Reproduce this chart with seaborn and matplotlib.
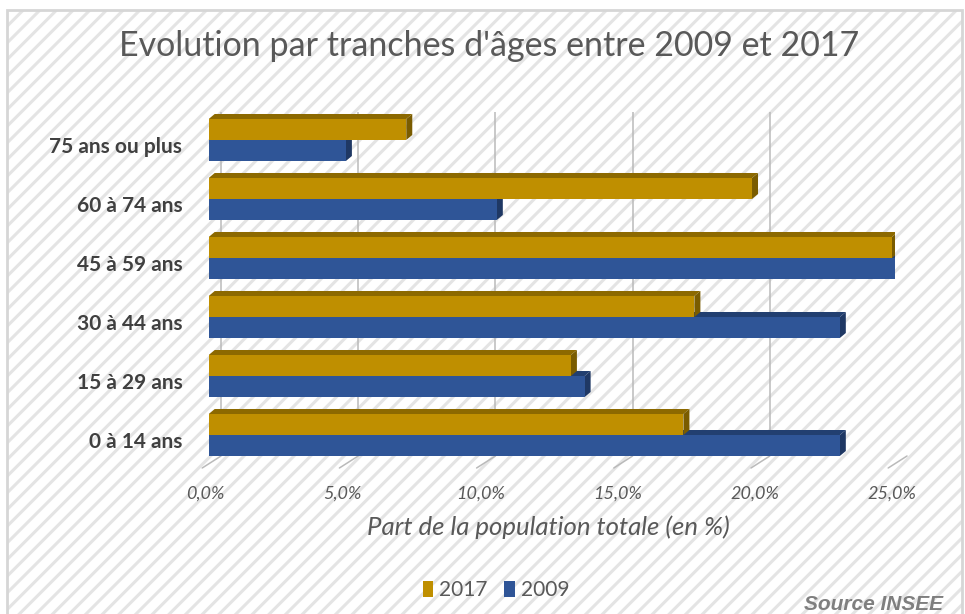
import matplotlib
matplotlib.use("Agg")
import matplotlib.pyplot as plt
import seaborn as sns
import pandas as pd
import numpy as np
from matplotlib.patches import Rectangle, Polygon, Patch
from matplotlib.transforms import ScaledTranslation

# ---------------- data ----------------
categories = ["75 ans ou plus", "60 à 74 ans", "45 à 59 ans",
              "30 à 44 ans", "15 à 29 ans", "0 à 14 ans"]
values_2017 = [7.2, 19.8, 24.9, 17.7, 13.2, 17.3]
values_2009 = [5.0, 10.5, 25.0, 23.0, 13.7, 23.0]
series = ["2017", "2009"]
xticks = [0, 5, 10, 15, 20, 25]
xtick_labels = ["0,0%", "5,0%", "10,0%", "15,0%", "20,0%", "25,0%"]
title = "Evolution par tranches d'âges entre 2009 et 2017"
xlabel = "Part de la population totale (en %)"
source = "Source INSEE"

df = pd.DataFrame({
    "cat": categories * 2,
    "val": values_2017 + values_2009,
    "annee": ["2017"] * len(categories) + ["2009"] * len(categories),
})

colors = {"2017": "#BF8F00", "2009": "#2F5597"}
top_colors = {"2017": "#8C6900", "2009": "#223F70"}
side_colors = {"2017": "#7A5C00", "2009": "#1F3864"}

sns.set_theme(style="white")
plt.rcParams["font.family"] = ["Lato", "DejaVu Sans"]
plt.rcParams["hatch.linewidth"] = 2.2
plt.rcParams["hatch.color"] = "#E4E4E4"

W, H = 965, 614
fig = plt.figure(figsize=(W / 100, H / 100), dpi=100)
fig.patch.set_facecolor("white")

# hatched background with border
bg = Rectangle((7 / W, 0), (963 - 7) / W, 1 - 10 / H, transform=fig.transFigure,
               facecolor="white", edgecolor="#E4E4E4", hatch="//", lw=0, zorder=-20)
fig.add_artist(bg)
border = Rectangle((7 / W, -0.01), (962 - 7) / W, 1 - 10 / H + 0.01, transform=fig.transFigure,
                   facecolor="none", edgecolor="#D6D6D6", lw=2.0, zorder=-19)
fig.add_artist(border)

# axes: front plane
left, right, top, bottom = 208.7, 894.7, 112, 468
ax = fig.add_axes([left / W, 1 - bottom / H, (right - left) / W, (bottom - top) / H])
ax.patch.set_alpha(0)

sns.barplot(data=df, y="cat", x="val", hue="annee", order=categories,
            hue_order=series, palette=colors, orient="h", width=0.712,
            saturation=1, ax=ax, legend=False, linewidth=0, zorder=3)

pitch = 59.0
ax.set_xlim(0, 25)
ax.set_ylim((bottom - 140) / pitch, (top - 140) / pitch)

for s in ax.spines.values():
    s.set_visible(False)
ax.grid(False)

# back-wall gridlines and floor ticks
back = ax.transData + ScaledTranslation(12.3 / 100, 12 / 100, fig.dpi_scale_trans)
y0, y1 = ax.get_ylim()
for t in xticks:
    ax.plot([t, t], [y0, y1], transform=back, color="#BABABA", lw=1.1, zorder=1,
            solid_capstyle="butt")
    p_back = ax.transData.transform((t, y0)) + np.array([12.3, 12])
    p_front = ax.transData.transform((t, y0)) + np.array([-6.5, 0])
    pts = ax.transData.inverted().transform(np.array([p_back, p_front]))
    ax.plot(pts[:, 0], pts[:, 1], color="#BABABA", lw=1.1, zorder=1, clip_on=False)

# 3D faces on bars
dx, dy = 6.0, 5.0
inv = ax.transData.inverted()
bars = list(ax.patches)
n = len(categories)
groups = [(series[0], bars[:n]), (series[1], bars[n:])]
for key, patches in reversed(groups):
    z = 4 if key == "2009" else 6
    for p in patches:
        x0, yb = p.get_x(), p.get_y()
        x1 = x0 + p.get_width()
        ya = yb + p.get_height()
        ytop_data = min(yb, ya)
        ybot_data = max(yb, ya)
        A = ax.transData.transform((x0, ytop_data))
        B = ax.transData.transform((x1, ytop_data))
        C = ax.transData.transform((x1, ybot_data))
        off = np.array([dx, dy])
        topf = inv.transform(np.array([A, B, B + off, A + off]))
        sidef = inv.transform(np.array([B, C, C + off, B + off]))
        ax.add_patch(Polygon(topf, closed=True, facecolor=top_colors[key], lw=0, zorder=z))
        ax.add_patch(Polygon(sidef, closed=True, facecolor=side_colors[key], lw=0, zorder=z))
        p.set_zorder(z + 0.5)

# ticks
ax.set_xticks(xticks)
ax.set_xticklabels(xtick_labels)
ax.tick_params(axis="x", length=0, pad=13, labelsize=13, labelcolor="#595959")
for lab in ax.get_xticklabels():
    lab.set_fontstyle("italic")
    lab.set_transform(lab.get_transform() + ScaledTranslation(-3 / 100, 0, fig.dpi_scale_trans))
ax.set_yticks(range(n))
ax.set_yticklabels(categories)
ax.tick_params(axis="y", length=0, pad=19, labelsize=15, labelcolor="#404040")
for lab in ax.get_yticklabels():
    lab.set_fontweight("bold")
    lab.set_transform(lab.get_transform() + ScaledTranslation(0, -5 / 100, fig.dpi_scale_trans))

ax.set_ylabel("")
ax.set_xlabel(xlabel, fontsize=18.5, color="#595959", fontstyle="italic")
ax.xaxis.set_label_coords((548 - left) / (right - left), -(527 - bottom) / (bottom - top))
ax.xaxis.label.set_va("center")

fig.text(489 / W, 1 - 46 / H, title, ha="center", va="center", fontsize=24.5,
         color="#595959", fontweight="normal")

handles = [Patch(facecolor=colors[s], edgecolor="none") for s in series]
fig.legend(handles, series, loc="center", bbox_to_anchor=(496 / W, 1 - 590 / H), ncol=2,
           frameon=False, fontsize=15, handlelength=0.5, handleheight=0.8,
           handletextpad=0.3, columnspacing=0.8, labelcolor="#595959")

fig.text(943 / W, 1 - 604 / H, source, ha="right", va="center", fontsize=15,
         color="#7F7F7F", fontweight="bold", fontstyle="italic",
         family=["Liberation Sans", "DejaVu Sans"])

fig.savefig("out.png", dpi=100)
